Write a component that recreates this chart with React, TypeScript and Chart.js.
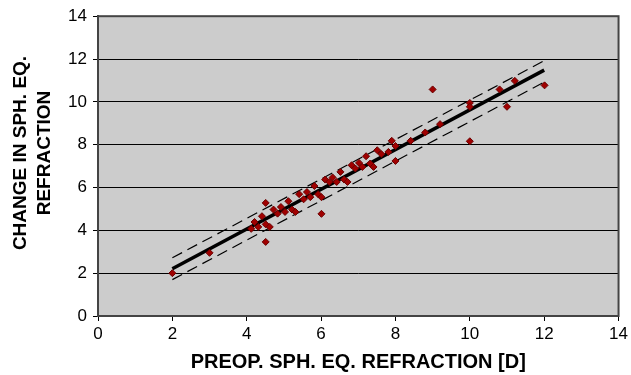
import { useEffect, useRef } from "react";
import { Chart, registerables } from "chart.js";

Chart.register(...registerables);

// Observed data: preoperative spherical equivalent vs change in sph. eq.
const preopSE = [
  2.0, 3.0, 4.12, 4.21, 4.31, 4.41, 4.51, 4.51, 4.62, 4.51, 4.72, 4.83, 4.92, 5.03,
  5.12, 5.22, 5.31, 5.41, 5.53, 5.62, 5.71, 5.82, 5.92, 6.01, 6.01, 6.11, 6.22, 6.31,
  6.42, 6.52, 6.62, 6.71, 6.82, 6.92, 7.02, 7.11, 7.21, 7.32, 7.41, 7.51, 7.62, 7.81,
  7.9, 8.0, 8.0, 8.41, 8.8, 9.0, 9.2, 10.0, 10.0, 10.0, 10.8, 11.0, 11.21, 12.01,
];
const changeSE = [
  2.0, 2.95, 4.07, 4.39, 4.16, 4.66, 5.28, 4.28, 4.16, 3.46, 4.97, 4.78, 5.09, 4.86,
  5.36, 4.97, 4.86, 5.69, 5.45, 5.79, 5.55, 6.07, 5.69, 5.55, 4.77, 6.37, 6.26, 6.47,
  6.26, 6.73, 6.37, 6.26, 7.04, 6.89, 7.15, 6.96, 7.46, 7.12, 6.96, 7.74, 7.56, 7.66,
  8.18, 7.94, 7.24, 8.18, 8.57, 10.58, 8.96, 9.95, 9.77, 8.16, 10.58, 9.77, 10.98, 10.77,
];

// Regression line and its dashed band (end points)
const fitX = [2, 12];
const fitY = [2.21, 11.48];
const upperY = [2.72, 11.92];
const lowerY = [1.7, 10.92];

const axisMin = 0;
const axisMax = 14;
const axisStep = 2;

const xTitle = "PREOP. SPH. EQ. REFRACTION [D]";
const yTitle = ["CHANGE IN SPH. EQ.", "REFRACTION"];

const FONT = "'Liberation Sans', Arial, sans-serif";

const plotFrame = {
  id: "plotFrame",
  beforeDraw(chart: any) {
    const { ctx, chartArea } = chart;
    const { left, top, right, bottom } = chartArea;
    ctx.save();
    ctx.fillStyle = "#cccccc";
    ctx.fillRect(left, top, right - left, bottom - top);
    ctx.restore();
  },
  beforeDatasetsDraw(chart: any) {
    const { ctx, chartArea } = chart;
    const { left, top, right, bottom } = chartArea;
    ctx.save();
    ctx.strokeStyle = "#444444";
    ctx.lineWidth = 2;
    ctx.strokeRect(left, top, right - left, bottom - top);
    ctx.restore();
  },
};

// Y-axis title drawn as two rotated text lines
const yTitlePlugin = {
  id: "yTitlePlugin",
  afterDraw(chart: any) {
    const { ctx } = chart;
    const centerY = 153;
    const xs = [21, 45];
    ctx.save();
    ctx.fillStyle = "#000000";
    ctx.font = `bold 19px ${FONT}`;
    ctx.textAlign = "center";
    ctx.textBaseline = "middle";
    yTitle.forEach((t, i) => {
      ctx.save();
      ctx.translate(xs[i], centerY);
      ctx.rotate(-Math.PI / 2);
      ctx.fillText(t, 0, 0);
      ctx.restore();
    });
    ctx.restore();
  },
};

export default function App() {
  const ref = useRef<HTMLCanvasElement | null>(null);

  useEffect(() => {
    if (!ref.current) return;
    const pts = preopSE.map((x, i) => ({ x, y: changeSE[i] }));
    const line = (ys: number[]) => fitX.map((x, i) => ({ x, y: ys[i] }));
    const chart = new Chart(ref.current, {
      type: "scatter",
      data: {
        datasets: [
          {
            label: "data",
            data: pts,
            pointStyle: "rectRot",
            pointRadius: 3.5,
            backgroundColor: "#a00000",
            borderColor: "#6a0000",
            borderWidth: 1,
            order: 0,
          },
          {
            label: "fit",
            type: "line",
            data: line(fitY),
            borderColor: "#000000",
            borderWidth: 3.5,
            pointRadius: 0,
            showLine: true,
            order: 1,
          },
          {
            label: "upper",
            type: "line",
            data: line(upperY),
            borderColor: "#000000",
            borderWidth: 1.2,
            borderDash: [11, 6],
            pointRadius: 0,
            showLine: true,
            order: 1,
          },
          {
            label: "lower",
            type: "line",
            data: line(lowerY),
            borderColor: "#000000",
            borderWidth: 1.2,
            borderDash: [11, 6],
            pointRadius: 0,
            showLine: true,
            order: 1,
          },
        ],
      },
      options: {
        responsive: false,
        animation: false,
        devicePixelRatio: 1,
        layout: { padding: { left: 0, right: 11, top: 16, bottom: 0 } },
        plugins: {
          legend: { display: false },
          tooltip: { enabled: false },
        },
        scales: {
          x: {
            type: "linear",
            min: axisMin,
            max: axisMax,
            afterFit(scale: any) {
              scale.height = 59;
            },
            ticks: {
              stepSize: axisStep,
              color: "#000000",
              padding: 3,
              font: { family: FONT, size: 17 },
              maxRotation: 0,
            },
            grid: {
              drawOnChartArea: false,
              drawTicks: true,
              tickLength: 5,
              color: "#000000",
            },
            border: { color: "#333333", width: 2 },
            title: {
              display: true,
              text: xTitle,
              color: "#000000",
              font: { family: FONT, size: 20, weight: "bold", lineHeight: 1.2 },
              padding: { top: 0, bottom: 1 },
            },
          },
          y: {
            type: "linear",
            min: axisMin,
            max: axisMax,
            afterFit(scale: any) {
              scale.width = 98;
            },
            ticks: {
              stepSize: axisStep,
              color: "#000000",
              padding: 6,
              font: { family: FONT, size: 17 },
            },
            grid: {
              drawTicks: true,
              tickLength: 5,
              color: "#000000",
              lineWidth: 1,
            },
            border: { color: "#333333", width: 2 },
            title: { display: false },
          },
        },
      },
      plugins: [plotFrame, yTitlePlugin],
    } as any);
    return () => chart.destroy();
  }, []);

  return (
    <div style={{ position: "fixed", left: 0, top: 0, width: 631, height: 375, background: "#ffffff" }}>
      <canvas ref={ref} width={631} height={375} style={{ display: "block" }} />
    </div>
  );
}
